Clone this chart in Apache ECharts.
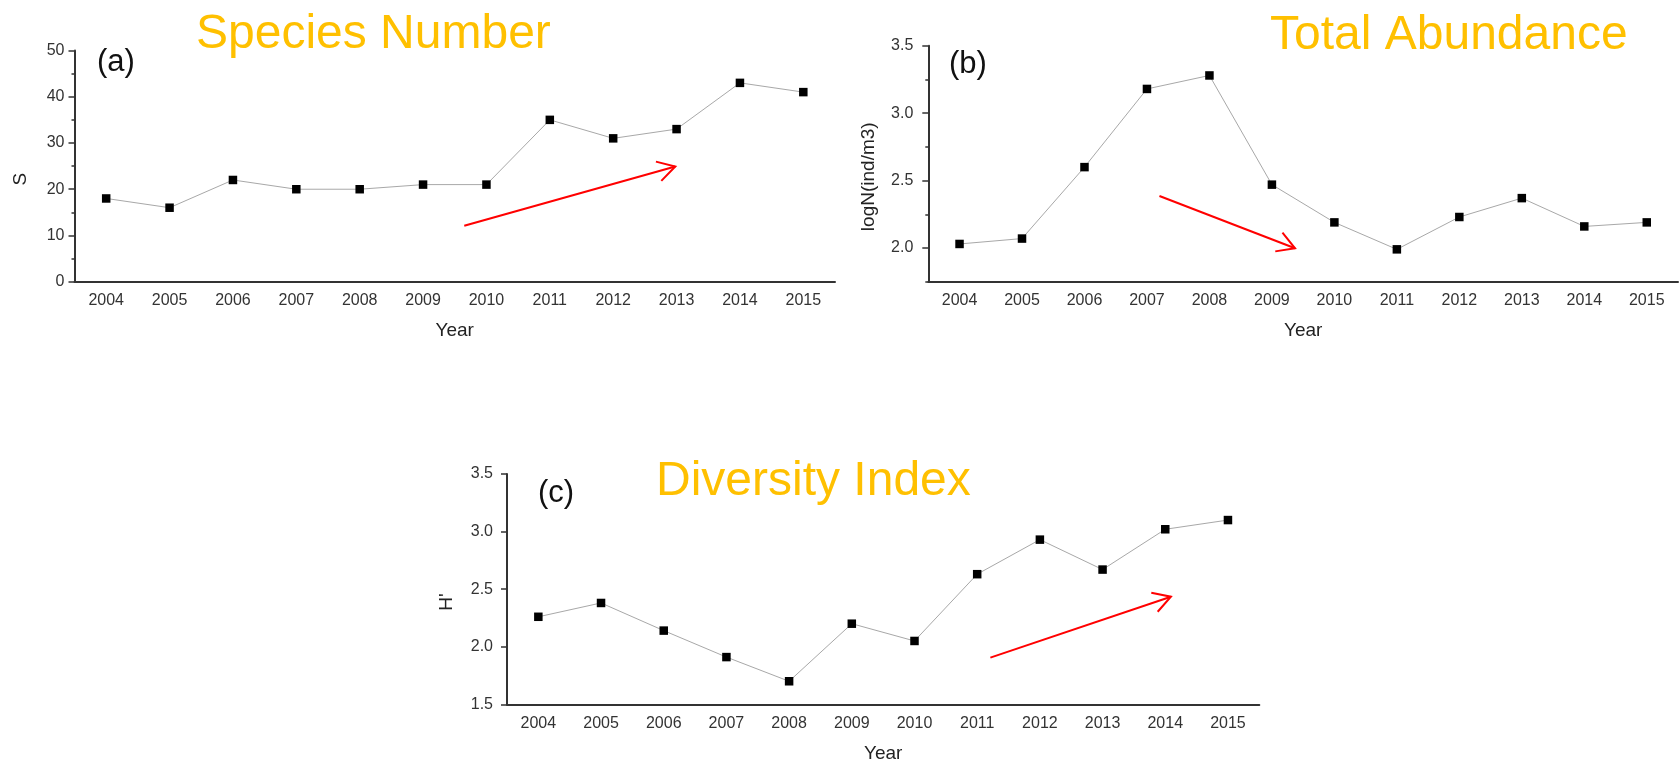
<!DOCTYPE html>
<html>
<head>
<meta charset="utf-8">
<script src="https://cdn.jsdelivr.net/npm/echarts@6/dist/echarts.min.js"></script>
<style>html,body{margin:0;padding:0;background:#fff;}#main{width:1680px;height:766px;}</style>
</head>
<body>
<div id="main"></div>
<script>
const years = ['2004','2005','2006','2007','2008','2009','2010','2011','2012','2013','2014','2015'];
const speciesS = [18, 16, 22, 20, 20, 21, 21, 35, 31, 33, 43, 41];
const abundanceLogN = [2.03, 2.07, 2.60, 3.18, 3.28, 2.47, 2.19, 1.99, 2.23, 2.37, 2.16, 2.19];
const diversityH = [2.26, 2.38, 2.14, 1.91, 1.70, 2.20, 2.05, 2.63, 2.93, 2.67, 3.02, 3.10];
const yTicksA = [0, 10, 20, 30, 40, 50];
const yTicksB = [2.0, 2.5, 3.0, 3.5];
const yTicksC = [1.5, 2.0, 2.5, 3.0, 3.5];
const panelTitles = ['Species Number', 'Total Abundance', 'Diversity Index'];
const panelLabels = ['(a)', '(b)', '(c)'];
const yNames = ['S', 'logN(ind/m3)', "H'"];
const xName = 'Year';
// trend arrows: [startIndex, startValue, endIndex, endValue] in data units
const arrowA = [5.65, 12.1, 8.98, 24.9];
const arrowB = [3.20, 2.386, 5.37, 1.998];
const arrowC = [7.21, 1.905, 10.09, 2.434];

const FONT = '"Liberation Sans", Arial, sans-serif';
const AX = '#333';
const chart = echarts.init(document.getElementById('main'));

function xAxisCfg(g) {
  return {
    type: 'category', gridIndex: g, data: years, boundaryGap: true,
    name: xName, nameLocation: 'middle', nameGap: 40,
    nameTextStyle: {fontFamily: FONT, fontSize: 19, color: '#222'},
    axisLine: {lineStyle: {color: AX, width: 2}},
    axisTick: {alignWithLabel: true, length: 7, lineStyle: {color: AX, width: 1.5}},
    axisLabel: {fontFamily: FONT, fontSize: 16, color: '#333', margin: 11},
    splitLine: {show: false}
  };
}
function yName(i, gap) {
  return {
    name: yNames[i], nameLocation: 'middle', nameGap: gap,
    nameTextStyle: {fontFamily: FONT, fontSize: 19, color: '#222', padding: [0, 26, 0, 0]}
  };
}
const yLine = {show: true, lineStyle: {color: AX, width: 2}};
const yTick = {show: true, length: 6, lineStyle: {color: AX, width: 1.5}};
const titleStyle = {color: '#FFC000', fontSize: 48, fontWeight: 'normal', fontFamily: FONT};
const labelStyle = {color: '#111', fontSize: 31, fontWeight: 'normal', fontFamily: FONT};

const option = {
  animation: false,
  backgroundColor: '#fff',
  title: [
    {text: panelTitles[0], left: 196, top: 11, padding: 0, textStyle: titleStyle},
    {text: panelTitles[1], left: 1270, top: 12, padding: 0, textStyle: titleStyle},
    {text: panelTitles[2], left: 656, top: 458, padding: 0, textStyle: titleStyle},
    {text: panelLabels[0], left: 97, top: 47, padding: 0, textStyle: labelStyle},
    {text: panelLabels[1], left: 949, top: 49, padding: 0, textStyle: labelStyle},
    {text: panelLabels[2], left: 538, top: 478, padding: 0, textStyle: labelStyle}
  ],
  grid: [
    {left: 74.5, top: 50.5, width: 760.5, height: 231.2, containLabel: false},
    {left: 928.3, top: 45.8, width: 749.7, height: 235.9, containLabel: false},
    {left: 507, top: 474, width: 752.3, height: 230.3, containLabel: false}
  ],
  xAxis: [xAxisCfg(0), xAxisCfg(1), xAxisCfg(2)],
  yAxis: [
    Object.assign({
      type: 'value', gridIndex: 0, position: 'left', min: yTicksA[0], max: yTicksA[yTicksA.length - 1], interval: 10,
      axisLine: yLine, axisTick: yTick,
      minorTick: {show: true, splitNumber: 2, length: 3, lineStyle: {color: AX, width: 1.5}},
      axisLabel: {fontFamily: FONT, fontSize: 16, color: '#333', margin: 10},
      splitLine: {show: false}, minorSplitLine: {show: false}
    }, yName(0, 44)),
    Object.assign({
      type: 'value', gridIndex: 1, position: 'left', min: 1.75, max: 3.5, interval: 0.25,
      axisLine: yLine,
      axisTick: Object.assign({customValues: yTicksB}, yTick),
      axisLabel: {customValues: yTicksB, fontFamily: FONT, fontSize: 16, color: '#333', margin: 15, formatter: v => v.toFixed(1)},
      splitLine: {show: false}
    }, yName(1, 50)),
    Object.assign({
      type: 'value', gridIndex: 2, position: 'left', min: yTicksC[0], max: yTicksC[yTicksC.length - 1], interval: 0.5,
      axisLine: yLine, axisTick: yTick,
      axisLabel: {fontFamily: FONT, fontSize: 16, color: '#333', margin: 14, formatter: v => v.toFixed(1)},
      splitLine: {show: false}
    }, yName(2, 51)),
    {
      type: 'value', gridIndex: 1, position: 'left', min: 1.75, max: 3.5, interval: 0.25,
      axisLine: {show: false}, axisLabel: {show: false},
      axisTick: {show: true, length: 3, lineStyle: {color: AX, width: 1.5}},
      splitLine: {show: false}
    }
  ],
  series: [
    {type: 'line', xAxisIndex: 0, yAxisIndex: 0, data: speciesS},
    {type: 'line', xAxisIndex: 1, yAxisIndex: 1, data: abundanceLogN},
    {type: 'line', xAxisIndex: 2, yAxisIndex: 2, data: diversityH}
  ].map(s => Object.assign(s, {
    symbol: 'rect', symbolSize: 8.5, z: 3,
    itemStyle: {color: '#000'},
    lineStyle: {color: '#a8a8a8', width: 1}
  }))
};
chart.setOption(option);

function toPx(g, yi, xi, yv) {
  const p0 = chart.convertToPixel({xAxisIndex: g, yAxisIndex: yi}, [0, yv]);
  const p1 = chart.convertToPixel({xAxisIndex: g, yAxisIndex: yi}, [1, yv]);
  return [p0[0] + xi * (p1[0] - p0[0]), p0[1]];
}
function arrow(g, yi, a) {
  const s = toPx(g, yi, a[0], a[1]);
  const t = toPx(g, yi, a[2], a[3]);
  const dx = s[0] - t[0], dy = s[1] - t[1];
  const len = Math.hypot(dx, dy);
  const ux = dx / len, uy = dy / len;
  const L = 20, ang = Math.PI / 6;
  const rot = (x, y, th) => [x * Math.cos(th) - y * Math.sin(th), x * Math.sin(th) + y * Math.cos(th)];
  const h1 = rot(ux, uy, ang), h2 = rot(ux, uy, -ang);
  const st = {stroke: '#ff0000', lineWidth: 2, fill: null};
  return [
    {type: 'polyline', shape: {points: [s, t]}, style: st, z: 10},
    {type: 'polyline', shape: {points: [[t[0] + h1[0] * L, t[1] + h1[1] * L], t, [t[0] + h2[0] * L, t[1] + h2[1] * L]]}, style: st, z: 10}
  ];
}
chart.setOption({graphic: [].concat(arrow(0, 0, arrowA), arrow(1, 1, arrowB), arrow(2, 2, arrowC))});
</script>
</body>
</html>
